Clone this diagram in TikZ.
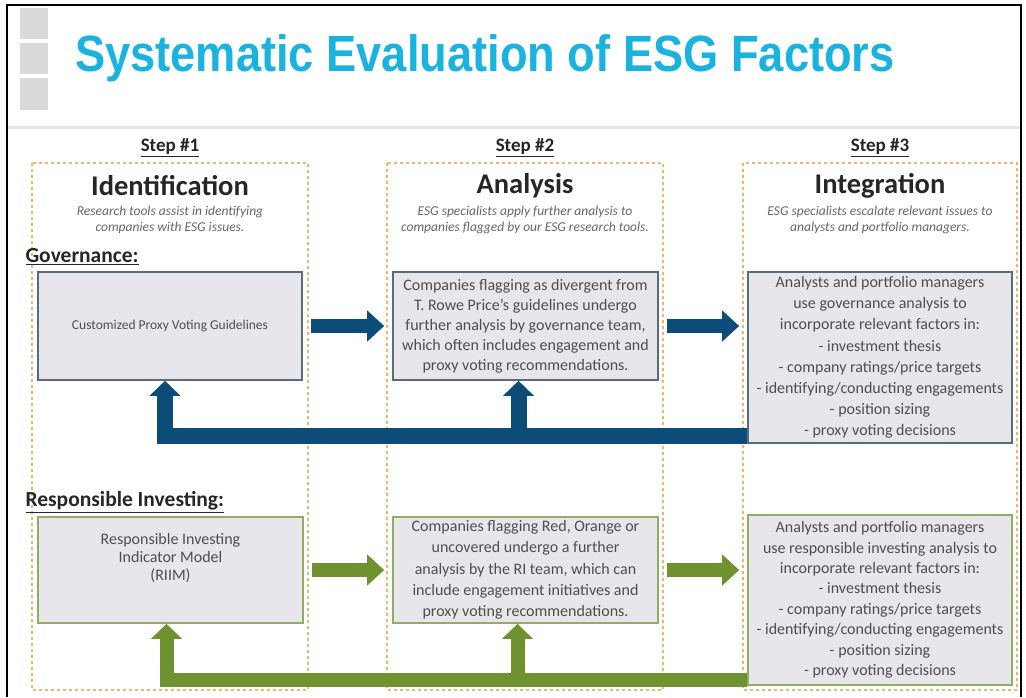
\documentclass[tikz,border=0pt]{standalone}
\usepackage{fontspec}
\setmainfont{Carlito}
\newfontfamily\titlefont{Liberation Sans}
\usetikzlibrary{arrows.meta}
\definecolor{esgcyan}{RGB}{26,178,222}
\definecolor{govblue}{RGB}{12,76,120}
\definecolor{rigreen}{RGB}{110,146,48}
\definecolor{boxgray}{RGB}{231,231,235}
\definecolor{dashorange}{RGB}{240,182,112}
\definecolor{txtgray}{RGB}{78,78,78}
\definecolor{squaregray}{RGB}{218,218,218}
\tikzset{
    colbox/.style = {draw = dashorange, dashed, line width = 1.2pt},
    govbox/.style = {draw = govblue!35!gray, line width = 1.6pt, fill = boxgray, text = txtgray,
        align = center, inner sep = 2pt, font = \fontsize{16}{21}\selectfont},
    ribox/.style = {govbox, draw = rigreen!75!white},
    govarrow/.style = {draw = govblue, line width = 14pt, -{Triangle[length = 17pt, width = 30pt]}},
    riarrow/.style = {govarrow, draw = rigreen},
    govback/.style = {draw = govblue, line width = 16pt, line join = miter, -{Triangle[length = 15pt, width = 30pt]}},
    riback/.style = {govback, draw = rigreen, line width = 14pt}
}
\begin{document}
\begin{tikzpicture}[x = 1pt, y = -1pt]
        \useasboundingbox (0,0) rectangle (1026,697);
        % frame and title
        \draw[line width = 2pt] (7,697) -- (7,5) -- (1021,5) -- (1021,697);
        \foreach \ya/\yb in {8/39, 43/74, 78/110}
            \fill[squaregray] (20,\ya) rectangle (48,\yb);
        \node[anchor = base west, inner sep = 0pt, text = esgcyan,
            font = \titlefont\bfseries\fontsize{51}{51}\selectfont] (title) at (75,71)
            {\scalebox{0.887}[1]{Systematic Evaluation of ESG Factors}};
        \draw[line width = 3pt, draw = black!10] (8,127) -- (1020,127);
        % the three steps
        \draw[colbox] (32,163) rectangle (308,690);
        \draw[colbox] (387,163) rectangle (663,690);
        \draw[colbox] (743,163) rectangle (1017,690);
        \begin{scope}[every node/.append style = {font = \bfseries\fontsize{19}{19}\selectfont, text = black!85}]
            \node (step1) at (170,148) {\underline{Step \#1}};
            \node (step2) at (525,148) {\underline{Step \#2}};
            \node (step3) at (880,148) {\underline{Step \#3}};
        \end{scope}
        \begin{scope}[every node/.append style = {font = \bfseries\fontsize{28.5}{28.5}\selectfont, text = black!85}]
            \node (ident) at (170,186) {Identification};
            \node (anal) at (525,186) {Analysis};
            \node (integ) at (880,186) {Integration};
        \end{scope}
        \begin{scope}[every node/.append style = {font = \itshape\fontsize{13.5}{16}\selectfont, text = black!60, align = center}]
            \node (sub1) at (170,220) {Research tools assist in identifying\\companies with ESG issues.};
            \node (sub2) at (525,220) {ESG specialists apply further analysis to\\companies flagged by our ESG research tools.};
            \node (sub3) at (880,220) {ESG specialists escalate relevant issues to\\analysts and portfolio managers.};
        \end{scope}
        % governance
        \node[anchor = west, font = \bfseries\fontsize{21.5}{21.5}\selectfont, text = black!85] (govlabel) at (22,257) {\underline{Governance:}};
        \node[govbox, minimum width = 264pt, minimum height = 108pt, font = \fontsize{13.5}{19}\selectfont] (g1) at (170,326)
            {Customized Proxy Voting Guidelines};
        \node[govbox, minimum width = 265pt, minimum height = 108pt, font = \fontsize{16}{20}\selectfont] (g2) at (525.5,326)
            {Companies flagging as divergent from\\T. Rowe Price's guidelines undergo\\further analysis by governance team,\\which often includes engagement and\\proxy voting recommendations.};
        \node[govbox, minimum width = 264pt, minimum height = 171pt, font = \fontsize{16}{21.2}\selectfont] (g3) at (880,357.5)
            {Analysts and portfolio managers\\use governance analysis to\\incorporate relevant factors in:\\- investment thesis\\- company ratings/price targets\\- identifying/conducting engagements\\- position sizing\\- proxy voting decisions};
        \draw[govarrow, shorten < = 8pt, shorten > = 8pt] (g1) -- (g2);
        \draw[govarrow, shorten < = 8pt, shorten > = 8pt] (g2.east) -- (g2.east -| g3.west);
        \coordinate (gback) at ([yshift = 8pt]g3.south west);
        \coordinate (g1in) at ([xshift = -5pt]g1.south);
        \coordinate (g2in) at ([xshift = -7pt]g2.south);
        \draw[govback] (gback) -| (g1in);
        \draw[govback] (g2in |- gback) -- (g2in);
        % responsible investing
        \node[anchor = west, font = \bfseries\fontsize{21.5}{21.5}\selectfont, text = black!85] (rilabel) at (22,502) {\underline{Responsible Investing:}};
        \node[ribox, minimum width = 265pt, minimum height = 106pt, font = \fontsize{16}{18}\selectfont] (r1) at (170.5,570)
            {Responsible Investing\\Indicator Model\\(RIIM)\\[8pt]};
        \node[ribox, minimum width = 265pt, minimum height = 106pt, font = \fontsize{16}{21.2}\selectfont] (r2) at (525.5,570)
            {Companies flagging Red, Orange or\\uncovered undergo a further\\analysis by the RI team, which can\\include engagement initiatives and\\proxy voting recommendations.};
        \node[ribox, minimum width = 264pt, minimum height = 170pt, font = \fontsize{16}{20.4}\selectfont] (r3) at (880,600)
            {Analysts and portfolio managers\\use responsible investing analysis to\\incorporate relevant factors in:\\- investment thesis\\- company ratings/price targets\\- identifying/conducting engagements\\- position sizing\\- proxy voting decisions};
        \draw[riarrow, shorten < = 8pt, shorten > = 8pt] (r1) -- (r2);
        \draw[riarrow, shorten < = 8pt, shorten > = 8pt] (r2.east) -- (r2.east -| r3.west);
        \coordinate (rback) at ([yshift = 6pt]r3.south west);
        \coordinate (r1in) at ([xshift = -4pt]r1.south);
        \coordinate (r2in) at ([xshift = -8pt]r2.south);
        \draw[riback] (rback) -| (r1in);
        \draw[riback] (r2in |- rback) -- (r2in);
    \end{tikzpicture}
\end{document}
